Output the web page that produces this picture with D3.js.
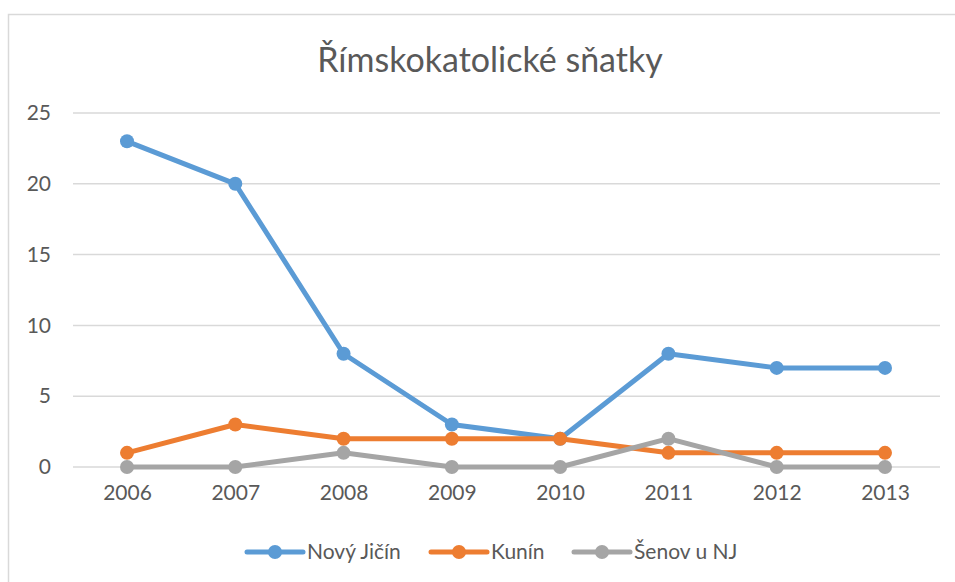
<!DOCTYPE html>
<html><head><meta charset="utf-8">
<script src="https://cdn.jsdelivr.net/npm/d3@7"></script>
<style>body{margin:0;background:#fff}text{font-family:Lato,"Open Sans",sans-serif;fill:#595959}</style>
</head><body>
<svg id="c" width="955" height="582"></svg>
<script>
const categories = ["2006","2007","2008","2009","2010","2011","2012","2013"];
const seriesNames = ["Nový Jičín","Kunín","Šenov u NJ"];
const novyJicin = [23,20,8,3,2,8,7,7];
const kunin = [1,3,2,2,2,1,1,1];
const senov = [0,0,1,0,0,2,0,0];
const yTicks = [0,5,10,15,20,25];
const colors = ["#5B9BD5","#ED7D31","#A5A5A5"];
const title = "Římskokatolické sňatky";

const series = [novyJicin, kunin, senov];
const svg = d3.select("#c");
svg.append("rect").attr("x",8.5).attr("y",14.5).attr("width",1000).attr("height",700)
  .attr("fill","#fff").attr("stroke","#d9d9d9").attr("stroke-width",1.5);

const x = d3.scalePoint().domain(categories).range([127,885]);
const y = d3.scaleLinear().domain([0,25]).range([467,113]);

// gridlines
svg.append("g").selectAll("line").data(yTicks).join("line")
  .attr("x1",73).attr("x2",940).attr("y1",d=>y(d)).attr("y2",d=>y(d))
  .attr("stroke","#d9d9d9").attr("stroke-width",1.5);

// y axis labels
const ya = svg.append("g").attr("transform","translate(51,0)")
  .call(d3.axisLeft(y).tickValues(yTicks).tickSize(0).tickPadding(0));
ya.select(".domain").remove();
ya.selectAll("text").attr("font-size",21).style("font-family","Lato,sans-serif").attr("fill","#595959");

// x axis labels
const xa = svg.append("g").attr("transform","translate(0,485)")
  .call(d3.axisBottom(x).tickSize(0).tickPadding(0));
xa.select(".domain").remove();
xa.selectAll("text").attr("font-size",21).style("font-family","Lato,sans-serif").attr("fill","#595959");

// lines
const line = d3.line().x((d,i)=>x(categories[i])).y(d=>y(d));
series.forEach((s,k)=>{
  const g = svg.append("g");
  g.append("path").attr("d",line(s)).attr("fill","none").attr("stroke",colors[k])
    .attr("stroke-width",5).attr("stroke-linejoin","round").attr("stroke-linecap","round");
  g.selectAll("circle").data(s).join("circle")
    .attr("cx",(d,i)=>x(categories[i])).attr("cy",d=>y(d)).attr("r",7).attr("fill",colors[k]);
});

// title
svg.append("text").attr("x",490).attr("y",72).attr("text-anchor","middle")
  .attr("font-size",34).text(title);

// legend
const legX = [247,431,574];
const lg = svg.append("g");
seriesNames.forEach((n,k)=>{
  const g = lg.append("g").attr("transform",`translate(${legX[k]},552)`);
  g.append("line").attr("x1",0).attr("x2",56).attr("y1",0).attr("y2",0)
    .attr("stroke",colors[k]).attr("stroke-width",5).attr("stroke-linecap","round");
  g.append("circle").attr("cx",28).attr("cy",0).attr("r",7).attr("fill",colors[k]);
  g.append("text").attr("x",60).attr("y",0).attr("dy","0.35em").attr("font-size",21).text(n);
});
</script>
</body></html>
